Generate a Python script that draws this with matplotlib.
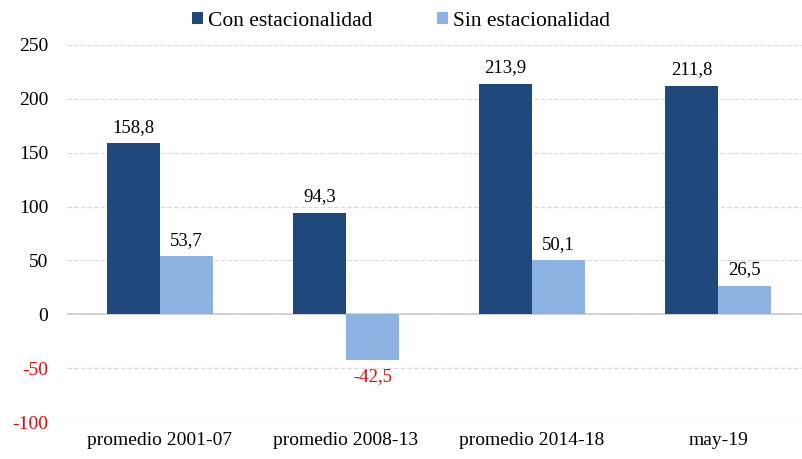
import matplotlib.pyplot as plt
import numpy as np

plt.rcParams['font.family'] = ['Liberation Serif', 'DejaVu Serif']

categorias = ["promedio 2001-07", "promedio 2008-13", "promedio 2014-18", "may-19"]
con_estac = [158.8, 94.3, 213.9, 211.8]
sin_estac = [53.7, -42.5, 50.1, 26.5]
yticks = [-100, -50, 0, 50, 100, 150, 200, 250]

c_dark = "#1F497D"
c_light = "#8DB3E2"

fig = plt.figure(figsize=(8.03, 4.59), dpi=100)
ax = fig.add_axes([0.0834, 0.0806, 0.9166, 0.8214])

x = np.arange(len(categorias))
w = 0.285
ax.bar(x - w / 2, con_estac, w, color=c_dark, label="Con estacionalidad", zorder=3)
ax.bar(x + w / 2, sin_estac, w, color=c_light, label="Sin estacionalidad", zorder=3)

# etiquetas de datos
for xi, v in zip(x - w / 2, con_estac):
    ax.text(xi, v + 7, f"{v:.1f}".replace(".", ","), ha="center", va="bottom", fontsize=13.5)
for xi, v in zip(x + w / 2, sin_estac):
    if v >= 0:
        ax.text(xi, v + 7, f"{v:.1f}".replace(".", ","), ha="center", va="bottom", fontsize=13.5)
    else:
        ax.text(xi, v - 7, f"{v:.1f}".replace(".", ","), ha="center", va="top",
                fontsize=13.5, color="red")

ax.set_ylim(-100, 250)
ax.set_xlim(-0.5, 3.456)
ax.set_yticks(yticks)
ax.set_yticklabels([str(t) for t in yticks], fontsize=14)
for lab, t in zip(ax.get_yticklabels(), yticks):
    if t < 0:
        lab.set_color("red")
ax.set_xticks(x)
ax.set_xticklabels(categorias, fontsize=14)
ax.tick_params(axis="y", length=0, pad=13.5)
ax.tick_params(axis="x", length=0, pad=7)

ax.yaxis.grid(True, linestyle=(0, (4, 2)), color="#D9D9D9", linewidth=0.8, zorder=0)
ax.axhline(0, color="#D0D0D0", linewidth=1.3, zorder=2)
for s in ax.spines.values():
    s.set_visible(False)

ax.legend(loc="upper center", bbox_to_anchor=(0.454, 1.14), ncol=2, frameon=False,
          fontsize=15.5, handlelength=0.5, handleheight=0.5, handletextpad=0.25,
          columnspacing=3.0)

fig.savefig("out.png", dpi=100)
